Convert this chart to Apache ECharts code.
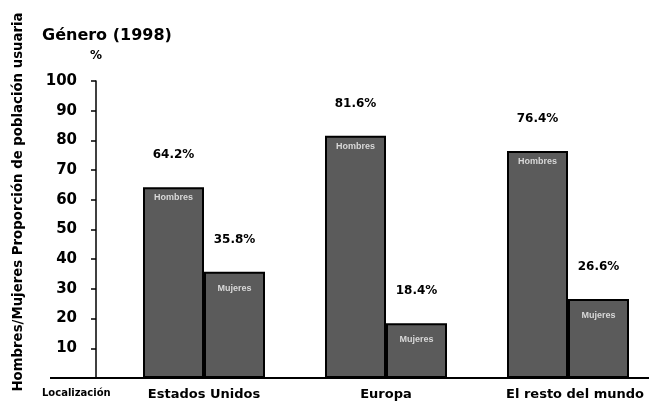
<!DOCTYPE html>
<html>
<head>
<meta charset="utf-8">
<script src="https://cdn.jsdelivr.net/npm/echarts@6/dist/echarts.min.js"></script>
<style>
  html, body { margin: 0; padding: 0; background: #fff; }
  #chart { width: 649px; height: 403px; }
</style>
</head>
<body>
<div id="chart"></div>
<script>
// Internet users by gender, 1998 (% of users in each region)
const regions = ['Estados Unidos', 'Europa', 'El resto del mundo'];
const hombres = [64.2, 81.6, 76.4];
const mujeres = [35.8, 18.4, 26.6];
const seriesNames = ['Hombres', 'Mujeres'];
const yTicks = [0, 10, 20, 30, 40, 50, 60, 70, 80, 90, 100];

const FONT = 'DejaVu Sans';
const barFill = '#5b5b5b';

const chart = echarts.init(document.getElementById('chart'), null, { renderer: 'canvas' });

function valueSeries(name, data, xi) {
  return {
    name: name,
    type: 'bar',
    xAxisIndex: xi,
    yAxisIndex: 0,
    data: data,
    barWidth: 61,
    barGap: '0%',
    itemStyle: { color: barFill, borderColor: '#000', borderWidth: 2 },
    label: {
      show: true,
      position: 'top',
      distance: 26,
      formatter: p => p.value.toFixed(1) + '%',
      fontFamily: FONT,
      fontWeight: 'bold',
      fontSize: 12,
      color: '#000'
    },
    silent: true,
    z: 2
  };
}

function nameSeries(name, data, xi, dist) {
  return {
    name: name + ' ',
    type: 'bar',
    xAxisIndex: xi,
    yAxisIndex: 0,
    data: data,
    barWidth: 61,
    barGap: '0%',
    itemStyle: { color: 'rgba(0,0,0,0)' },
    label: {
      show: true,
      position: 'insideTop',
      distance: dist,
      formatter: name,
      fontFamily: 'Liberation Sans',
      fontWeight: 'bold',
      fontSize: 9,
      color: '#d8d8d8'
    },
    silent: true,
    z: 3
  };
}

// group centres sit on the grid's left and right edges (boundaryGap off)
const catAxisBase = {
  type: 'category',
  data: regions,
  boundaryGap: false
};

const option = {
  backgroundColor: '#fff',
  animation: false,
  grid: [{ left: 204, right: 81, top: 81, bottom: 25 }],
  xAxis: [
    Object.assign({}, catAxisBase, {
      data: regions.map((r, i) => i === regions.length - 1
        ? { value: r, textStyle: { padding: [0, 0, 0, 14] } }
        : r),
      axisLine: { show: false },
      axisTick: { show: false },
      axisLabel: {
        interval: 0,
        margin: 10,
        fontFamily: FONT,
        fontWeight: 'bold',
        fontSize: 13,
        color: '#000'
      },
      splitLine: { show: false }
    }),
    Object.assign({}, catAxisBase, { show: false })
  ],
  yAxis: [{
    type: 'value',
    min: yTicks[0],
    max: yTicks[yTicks.length - 1],
    interval: 10,
    position: 'left',
    offset: 108,
    axisLine: { show: true, lineStyle: { color: '#000', width: 1.5 } },
    axisTick: { show: true, length: 5, lineStyle: { color: '#000', width: 1.5 } },
    axisLabel: {
      margin: 19,
      fontFamily: FONT,
      fontWeight: 'bold',
      fontSize: 15,
      color: '#000',
      formatter: v => (v === 0 ? '' : String(v))
    },
    splitLine: { show: false }
  }],
  series: [
    valueSeries(seriesNames[0], hombres, 0),
    valueSeries(seriesNames[1], mujeres, 0),
    nameSeries(seriesNames[0], hombres, 1, 6),
    nameSeries(seriesNames[1], mujeres, 1, 12)
  ],
  graphic: [
    // baseline across the whole width, from under "Localización" to the right edge
    {
      type: 'line',
      shape: { x1: 50, y1: 378, x2: 649, y2: 378 },
      style: { stroke: '#000', lineWidth: 2 },
      z: 5
    },
    {
      type: 'text',
      left: 42, top: 388,
      style: { text: 'Localización', font: 'bold 10px ' + FONT, fill: '#000' }
    },
    {
      type: 'text',
      left: 42, top: 28,
      style: { text: 'Género (1998)', font: 'bold 16px ' + FONT, fill: '#000' }
    },
    {
      type: 'text',
      left: 90, top: 50,
      style: { text: '%', font: 'bold 12px ' + FONT, fill: '#000' }
    },
    {
      type: 'text',
      x: 19, y: 202,
      rotation: Math.PI / 2,
      style: {
        text: 'Hombres/Mujeres Proporción de población usuaria',
        font: 'bold 13.3px ' + FONT,
        fill: '#000',
        align: 'center',
        verticalAlign: 'middle'
      }
    }
  ]
};

chart.setOption(option);
</script>
</body>
</html>
